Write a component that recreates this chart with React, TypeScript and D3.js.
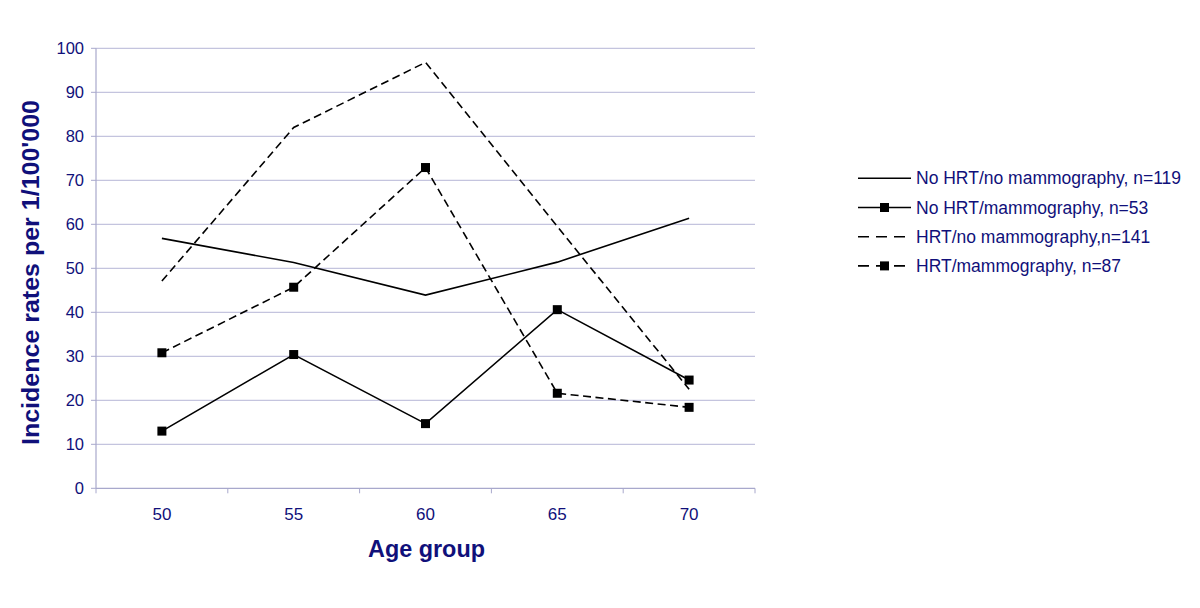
import React from "react";
import * as d3 from "d3";

const categories = ["50", "55", "60", "65", "70"];
const noHrtNoMammo = [56.8, 51.3, 43.9, 51.4, 61.4];
const noHrtMammo = [13.0, 30.4, 14.7, 40.6, 24.6];
const hrtNoMammo = [47.1, 82.0, 96.8, 59.5, 22.5];
const hrtMammo = [30.8, 45.7, 72.9, 21.6, 18.4];
const yTicks = [0, 10, 20, 30, 40, 50, 60, 70, 80, 90, 100];

const seriesNames = [
  "No HRT/no mammography, n=119",
  "No HRT/mammography, n=53",
  "HRT/no mammography,n=141",
  "HRT/mammography, n=87",
];

const series = [
  { name: seriesNames[0], values: noHrtNoMammo, dashed: false, marker: false },
  { name: seriesNames[1], values: noHrtMammo, dashed: false, marker: true },
  { name: seriesNames[2], values: hrtNoMammo, dashed: true, marker: false },
  { name: seriesNames[3], values: hrtMammo, dashed: true, marker: true },
];

const W = 1200;
const H = 608;
const left = 96;
const right = 755;
const top = 48.3;
const bottom = 488.3;
const textColor = "#10107a";
const font = "'Liberation Sans', Arial, sans-serif";

export default function App() {
  const x = d3.scaleBand().domain(categories).range([left, right]);
  const y = d3.scaleLinear().domain([0, 100]).range([bottom, top]);
  const line = d3
    .line<number>()
    .x((_, i) => (x(categories[i]) as number) + x.bandwidth() / 2)
    .y((d) => y(d));
  const ms = 9;
  const boundaries = [...categories.map((c) => x(c) as number), right];

  return (
    <svg
      width={W}
      height={H}
      style={{ position: "absolute", left: 0, top: 0, background: "#fff" }}
      fontFamily={font}
    >
      <rect width={W} height={H} fill="#fff" />
      {yTicks.map((t) => (
        <g key={t}>
          {t > 0 && (
            <line x1={left} x2={right} y1={y(t)} y2={y(t)} stroke="#c4c4de" strokeWidth={1.2} />
          )}
          <line x1={left - 5} x2={left} y1={y(t)} y2={y(t)} stroke="#a8a8cc" strokeWidth={1} />
          <text x={left - 12} y={y(t)} dy="0.35em" textAnchor="end" fontSize={16.5} fill={textColor}>
            {t}
          </text>
        </g>
      ))}
      <line x1={left} x2={left} y1={top} y2={bottom} stroke="#a8a8cc" strokeWidth={1.2} />
      <line x1={left} x2={right} y1={bottom} y2={bottom} stroke="#a8a8cc" strokeWidth={1.2} />
      {boundaries.map((b, i) => (
        <line key={i} x1={b} x2={b} y1={bottom} y2={bottom + 5} stroke="#a8a8cc" strokeWidth={1} />
      ))}
      {categories.map((c) => (
        <text
          key={c}
          x={(x(c) as number) + x.bandwidth() / 2}
          y={519.5}
          textAnchor="middle"
          fontSize={17}
          fill={textColor}
        >
          {c}
        </text>
      ))}
      <text
        x={426.5}
        y={557}
        textAnchor="middle"
        fontSize={23}
        fontWeight="bold"
        fill={textColor}
        textLength={117}
        lengthAdjust="spacingAndGlyphs"
      >
        Age group
      </text>
      <text
        transform={`translate(39,${272.5}) rotate(-90)`}
        textAnchor="middle"
        fontSize={23}
        fontWeight="bold"
        fill={textColor}
        textLength={345}
        lengthAdjust="spacingAndGlyphs"
      >
        Incidence rates per 1/100'000
      </text>
      {series.map((s) => (
        <g key={s.name}>
          <path
            d={line(s.values) || ""}
            fill="none"
            stroke="#000"
            strokeWidth={1.6}
            strokeDasharray={s.dashed ? "8,4.5" : undefined}
          />
          {s.marker &&
            s.values.map((v, i) => (
              <rect
                key={i}
                x={(x(categories[i]) as number) + x.bandwidth() / 2 - ms / 2}
                y={y(v) - ms / 2}
                width={ms}
                height={ms}
                fill="#000"
              />
            ))}
        </g>
      ))}
      {series.map((s, i) => {
        const ly = 178.3 + i * 29.2;
        return (
          <g key={s.name}>
            <line
              x1={858}
              x2={911}
              y1={ly}
              y2={ly}
              stroke="#000"
              strokeWidth={1.6}
              strokeDasharray={s.dashed ? "11,7" : undefined}
            />
            {s.marker && <rect x={884.5 - ms / 2} y={ly - ms / 2} width={ms} height={ms} fill="#000" />}
            <text x={916} y={ly} dy="0.35em" fontSize={17.5} fill={textColor}>
              {s.name}
            </text>
          </g>
        );
      })}
    </svg>
  );
}
